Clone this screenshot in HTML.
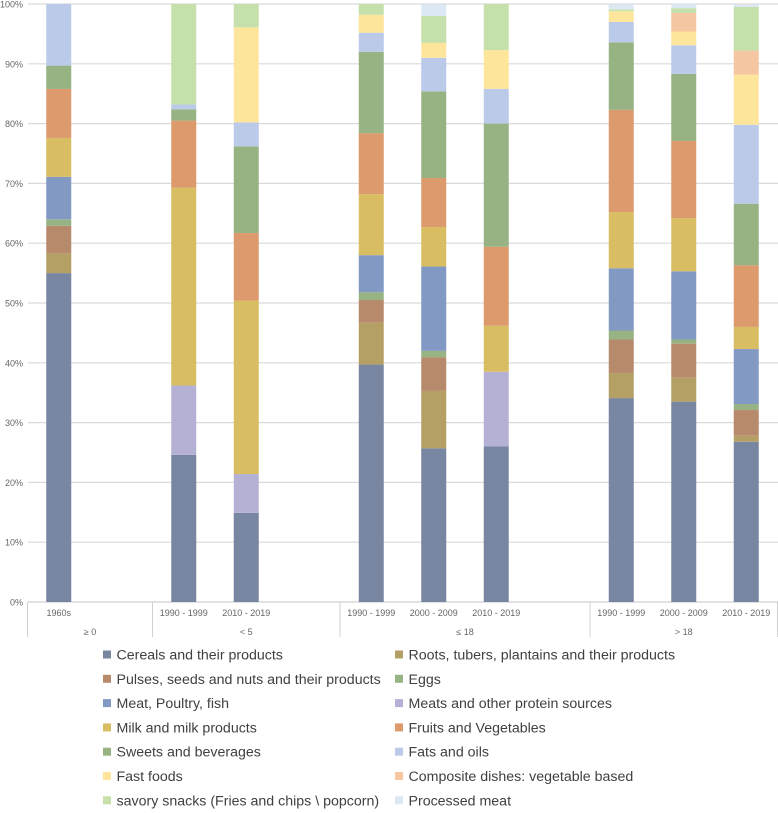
<!DOCTYPE html>
<html><head><meta charset="utf-8"><style>
body{margin:0;background:#fff;font-family:"Liberation Sans",sans-serif;}
svg{display:block}
</style></head><body>
<svg id="c" width="778" height="813" xmlns="http://www.w3.org/2000/svg"></svg>
<script>
const series = ["Cereals and their products","Roots, tubers, plantains and their products","Pulses, seeds and nuts and their products","Eggs","Meat, Poultry, fish","Meats and other protein sources","Milk and milk products","Fruits and Vegetables","Sweets and beverages","Fats and oils","Fast foods","Composite dishes: vegetable based","savory snacks (Fries and chips \\ popcorn)","Processed meat"];
const colors = ["#7886a2","#b4a064","#b88a6c","#97b283","#8299c4","#b5b1d5","#d8bd62","#dd9a6c","#97b283","#bccaea","#fde59c","#f5c6a2","#c5e0aa","#dde8f5"];
const categories = ["1960s","1990 - 1999","2010 - 2019","1990 - 1999","2000 - 2009","2010 - 2019","1990 - 1999","2000 - 2009","2010 - 2019"];
const slots = [0,2,3,5,6,7,9,10,11];
const groups = ["≥ 0","< 5","≤ 18","> 18"];
const groupSlots = [[0,2],[2,5],[5,9],[9,12]];
const cereals   = [55,24.6,14.9,39.7,25.7,26,34.1,33.5,26.8];
const roots     = [3.3,0,0,7.0,9.6,0,4.2,4.0,1.0];
const pulses    = [4.6,0,0,3.8,5.6,0,5.6,5.7,4.3];
const eggs      = [1.1,0,0,1.3,1.1,0,1.5,0.7,1.0];
const meat      = [7.1,0,0,6.2,14.1,0,10.4,11.4,9.2];
const otherProt = [0,11.6,6.5,0,0,12.5,0,0,0];
const milk      = [6.5,33.1,29.0,10.2,6.6,7.7,9.4,8.9,3.7];
const fruits    = [8.2,11.2,11.3,10.2,8.2,13.2,17.1,12.9,10.3];
const sweets    = [3.9,1.9,14.5,13.6,14.5,20.6,11.3,11.2,10.3];
const fats      = [10.3,0.8,4.0,3.2,5.6,5.8,3.4,4.8,13.2];
const fast      = [0,0,15.9,3.0,2.5,6.5,1.8,2.3,8.4];
const composite = [0,0,0,0,0,0,0,3.1,4.0];
const savory    = [0,16.8,3.9,1.8,4.5,7.7,0.3,0.8,7.3];
const processed = [0,0,0,0,1.9,0,0.8,0.7,0.4];
const yTicks = ["0%","10%","20%","30%","40%","50%","60%","70%","80%","90%","100%"];
const data = [cereals,roots,pulses,eggs,meat,otherProt,milk,fruits,sweets,fats,fast,composite,savory,processed];

const svg=document.getElementById('c');
const NS="http://www.w3.org/2000/svg";
const X0=27.5, SLOT=62.5, BW=25, Y0=602, YH=598;
const xs=i=>X0+SLOT*(i+0.5);
const y=v=>Y0-v/100*YH;
function mk(t,a,txt){const e=document.createElementNS(NS,t);for(const k in a)e.setAttribute(k,a[k]);if(txt!==undefined)e.textContent=txt;svg.appendChild(e);return e;}
yTicks.forEach((t,i)=>{
  const g=mk('line',{x1:28,x2:778,y1:y(i*10),y2:y(i*10),stroke:i==0?'#d0d0d0':'#dadada','stroke-width':1.2});
  
  
  const l=mk('text',{x:23,y:y(i*10)+3.5,'font-size':9,fill:'#666','text-anchor':'end'},t);
  
  
});
categories.forEach((c,i)=>{
  let acc=0;const cx=xs(slots[i]);
  data.forEach((s,k)=>{
    const v=s[i];if(v<=0)return;
    const r=mk('rect',{x:cx-BW/2,y:y(acc+v),width:BW,height:v/100*YH,fill:colors[k]});
    
    
    acc+=v;
  });
  const t=mk('text',{x:cx,y:616,'font-size':9,fill:'#666','text-anchor':'middle'},c);
  
  
});
const sepX=[0,2,5,9,12];
sepX.forEach(s=>{const l=mk('line',{x1:X0+SLOT*s,x2:X0+SLOT*s,y1:602,y2:637,stroke:'#d0d0d0','stroke-width':1});
  
  });
groups.forEach((g,i)=>{const cx=X0+SLOT*(groupSlots[i][0]+groupSlots[i][1])/2;
  const t=mk('text',{x:cx,y:635,'font-size':9,fill:'#666','text-anchor':'middle'},g);
  
  });
series.forEach((s,k)=>{
  const col=k%2,row=Math.floor(k/2);
  const lx=col?395:103, ly=655+row*24.3;
  const r=mk('rect',{x:lx,y:ly-4.5,width:8,height:8,fill:colors[k]});
  
  
  const t=mk('text',{x:lx+13.5,y:ly+4.5,'font-size':14.2,fill:'#404040'},s);
  
  
});
</script>
</body></html>
